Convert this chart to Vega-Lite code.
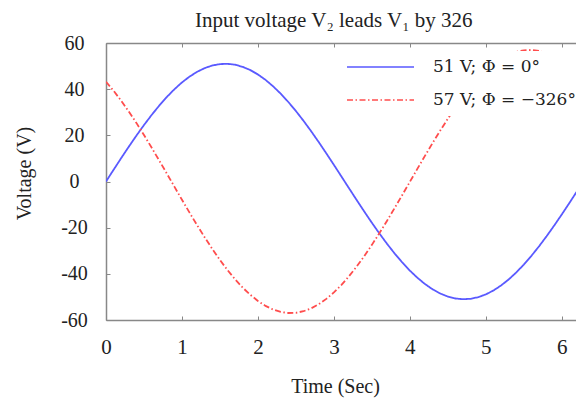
{
  "$schema": "https://vega.github.io/schema/vega-lite/v6.json",
  "width": 471,
  "height": 277,
  "autosize": {"type": "none"},
  "padding": {"left": 106, "top": 43, "right": 0, "bottom": 79},
  "background": "white",
  "config": {"view": {"stroke": null}, "font": "Liberation Serif"},
  "title": {"text": "Input voltage V₂ leads V₁ by 326", "anchor": "start", "frame": "group", "dx": 89, "dy": 33, "offset": 18, "baseline": "alphabetic", "fontSize": 21, "fontWeight": "normal", "font": "Liberation Serif", "color": "#222"},
  "data": {"values": [
    {"t": 0.0, "V1": 0, "V2": 43.23}, {"t": 0.1, "V1": 5.09, "V2": 39.30}, {"t": 0.2, "V1": 10.13, "V2": 34.98}, {"t": 0.3, "V1": 15.07, "V2": 30.32},
    {"t": 0.4, "V1": 19.86, "V2": 25.39}, {"t": 0.5, "V1": 24.45, "V2": 20.13}, {"t": 0.6, "V1": 28.79, "V2": 14.70}, {"t": 0.7, "V1": 32.85, "V2": 9.13},
    {"t": 0.8, "V1": 36.59, "V2": 3.47}, {"t": 0.9, "V1": 39.95, "V2": -2.23}, {"t": 1.0, "V1": 42.92, "V2": -7.91}, {"t": 1.1, "V1": 45.45, "V2": -13.50},
    {"t": 1.2, "V1": 47.53, "V2": -18.96}, {"t": 1.3, "V1": 49.14, "V2": -24.24}, {"t": 1.4, "V1": 50.26, "V2": -29.27}, {"t": 1.5, "V1": 50.87, "V2": -34.01},
    {"t": 1.6, "V1": 50.98, "V2": -38.40}, {"t": 1.7, "V1": 50.58, "V2": -42.41}, {"t": 1.8, "V1": 49.66, "V2": -45.99}, {"t": 1.9, "V1": 48.26, "V2": -49.11},
    {"t": 2.0, "V1": 46.37, "V2": -51.73}, {"t": 2.1, "V1": 44.02, "V2": -53.90}, {"t": 2.2, "V1": 41.23, "V2": -55.48}, {"t": 2.3, "V1": 38.03, "V2": -56.51},
    {"t": 2.4, "V1": 34.45, "V2": -56.97}, {"t": 2.5, "V1": 30.52, "V2": -56.87}, {"t": 2.6, "V1": 26.29, "V2": -56.20}, {"t": 2.7, "V1": 21.80, "V2": -54.96},
    {"t": 2.8, "V1": 17.09, "V2": -53.18}, {"t": 2.9, "V1": 12.20, "V2": -50.86}, {"t": 3.0, "V1": 7.20, "V2": -48.04}, {"t": 3.1, "V1": 2.12, "V2": -44.74},
    {"t": 3.2, "V1": -2.98, "V2": -40.99}, {"t": 3.3, "V1": -8.04, "V2": -36.83}, {"t": 3.4, "V1": -13.03, "V2": -32.30}, {"t": 3.5, "V1": -17.89, "V2": -27.45},
    {"t": 3.6, "V1": -22.57, "V2": -22.32}, {"t": 3.7, "V1": -27.02, "V2": -16.98}, {"t": 3.8, "V1": -31.21, "V2": -11.46}, {"t": 3.9, "V1": -35.08, "V2": -5.83},
    {"t": 4.0, "V1": -38.60, "V2": -0.14}, {"t": 4.1, "V1": -41.73, "V2": 5.56}, {"t": 4.2, "V1": -44.45, "V2": 11.19}, {"t": 4.3, "V1": -46.73, "V2": 16.72},
    {"t": 4.4, "V1": -48.53, "V2": 22.07}, {"t": 4.5, "V1": -49.85, "V2": 27.21}, {"t": 4.6, "V1": -50.68, "V2": 32.07}, {"t": 4.7, "V1": -50.99, "V2": 36.62},
    {"t": 4.8, "V1": -50.81, "V2": 40.80}, {"t": 4.9, "V1": -50.11, "V2": 44.57}, {"t": 5.0, "V1": -48.90, "V2": 47.89}, {"t": 5.1, "V1": -47.22, "V2": 50.74},
    {"t": 5.2, "V1": -45.06, "V2": 53.08}, {"t": 5.3, "V1": -42.45, "V2": 54.89}, {"t": 5.4, "V1": -39.41, "V2": 56.15}, {"t": 5.5, "V1": -35.98, "V2": 56.85},
    {"t": 5.6, "V1": -32.20, "V2": 56.99}, {"t": 5.7, "V1": -28.09, "V2": 56.54}, {"t": 5.8, "V1": -23.69, "V2": 55.54}, {"t": 5.9, "V1": -19.07, "V2": 53.99},
    {"t": 6.0, "V1": -14.25, "V2": 51.89}, {"t": 6.1, "V1": -9.29, "V2": 49.28}, {"t": 6.2, "V1": -4.24, "V2": 46.17}, {"t": 6.3, "V1": 0.86, "V2": 42.60}
  ]},
  "transform": [{"fold": ["V1", "V2"], "as": ["series", "v"]}],
  "layer": [
    {
      "mark": {"type": "line", "strokeWidth": 1.8, "clip": true},
      "encoding": {
        "x": {"field": "t", "type": "quantitative", "scale": {"domain": [0, 6.2], "nice": false},
          "axis": {"title": "Time (Sec)", "values": [0, 1, 2, 3, 4, 5, 6], "format": "d", "tickSize": -4, "labelPadding": 20, "labelFontSize": 21, "labelBaseline": "top", "labelFlush": false, "labelColor": "#222", "domainColor": "#888", "domainWidth": 1.5, "tickColor": "#888", "grid": false, "titleFontSize": 20, "titleFontWeight": "normal", "titleColor": "#222", "titleX": 229, "titleY": 72, "titleBaseline": "alphabetic", "titleAlign": "center"}},
        "y": {"field": "v", "type": "quantitative", "scale": {"domain": [-60, 60], "nice": false},
          "axis": {"title": "Voltage (V)", "values": [-60, -40, -20, 0, 20, 40, 60], "labelExpr": "'' + datum.value", "tickSize": -4, "labelAlign": "center", "labelBaseline": "middle", "labelPadding": 36, "labelFontSize": 20, "labelColor": "#222", "domainColor": "#888", "domainWidth": 1.5, "tickColor": "#888", "grid": false, "titleFontSize": 20, "titleFontWeight": "normal", "titleColor": "#222", "titleX": -82, "titleY": 130, "titleAlign": "center", "titleBaseline": "middle", "titleAngle": -90}},
        "color": {"field": "series", "type": "nominal", "scale": {"domain": ["V1", "V2"], "range": ["#5a5aff", "#ff4d4d"]},
          "legend": {"orient": "none", "legendX": 234, "legendY": 8, "title": null, "symbolType": "stroke", "symbolSize": 4489, "symbolStrokeWidth": 1.5, "clipHeight": 20, "labelFont": "DejaVu Serif", "labelFontSize": 17, "labelColor": "#222", "labelOffset": 18, "fillColor": "white", "padding": 6, "rowPadding": 13, "labelExpr": "datum.label == 'V1' ? '51 V; Φ = 0°' : '57 V; Φ = −326°'"}},
        "strokeDash": {"field": "series", "type": "nominal", "scale": {"domain": ["V1", "V2"], "range": [[1, 0], [6, 2.5, 1.5, 2.5]]},
          "legend": {"orient": "none", "legendX": 234, "legendY": 8, "title": null, "symbolType": "stroke", "symbolSize": 4489, "symbolStrokeWidth": 1.5, "clipHeight": 20, "labelFont": "DejaVu Serif", "labelFontSize": 17, "labelColor": "#222", "labelOffset": 18, "fillColor": "white", "padding": 6, "rowPadding": 13, "labelExpr": "datum.label == 'V1' ? '51 V; Φ = 0°' : '57 V; Φ = −326°'"}}
      }
    },
    {
      "mark": {"type": "rule", "opacity": 0},
      "encoding": {
        "x": {"field": "t", "type": "quantitative",
          "axis": {"orient": "top", "labels": false, "title": null, "values": [0, 1, 2, 3, 4, 5, 6], "tickSize": -4, "domainColor": "#888", "domainWidth": 1.5, "tickColor": "#888", "grid": false}}
      }
    }
  ],
  "resolve": {"axis": {"x": "independent"}}
}
